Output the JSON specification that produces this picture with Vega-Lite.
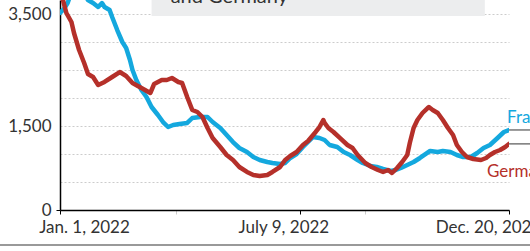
{
  "$schema": "https://vega.github.io/schema/vega-lite/v6.json",
  "width": 449,
  "height": 210,
  "autosize": {"type": "none"},
  "padding": {"left": 60, "top": 0, "right": 21, "bottom": 41},
  "background": "white",
  "config": {"view": {"stroke": null}, "font": "Lato"},
  "datasets": {
    "series": [
      {"country": "France", "date": "2022-01-01", "value": 3518},
      {"country": "France", "date": "2022-01-04", "value": 3589},
      {"country": "France", "date": "2022-01-07", "value": 3696},
      {"country": "France", "date": "2022-01-10", "value": 3893},
      {"country": "France", "date": "2022-01-15", "value": 3964},
      {"country": "France", "date": "2022-01-20", "value": 3857},
      {"country": "France", "date": "2022-01-23", "value": 3750},
      {"country": "France", "date": "2022-01-27", "value": 3696},
      {"country": "France", "date": "2022-01-31", "value": 3625},
      {"country": "France", "date": "2022-02-03", "value": 3696},
      {"country": "France", "date": "2022-02-05", "value": 3625},
      {"country": "France", "date": "2022-02-09", "value": 3571},
      {"country": "France", "date": "2022-02-11", "value": 3446},
      {"country": "France", "date": "2022-02-15", "value": 3214},
      {"country": "France", "date": "2022-02-19", "value": 3000},
      {"country": "France", "date": "2022-02-22", "value": 2893},
      {"country": "France", "date": "2022-02-25", "value": 2679},
      {"country": "France", "date": "2022-02-27", "value": 2500},
      {"country": "France", "date": "2022-03-02", "value": 2321},
      {"country": "France", "date": "2022-03-06", "value": 2143},
      {"country": "France", "date": "2022-03-10", "value": 2018},
      {"country": "France", "date": "2022-03-14", "value": 1839},
      {"country": "France", "date": "2022-03-19", "value": 1696},
      {"country": "France", "date": "2022-03-23", "value": 1571},
      {"country": "France", "date": "2022-03-27", "value": 1482},
      {"country": "France", "date": "2022-03-31", "value": 1518},
      {"country": "France", "date": "2022-04-05", "value": 1536},
      {"country": "France", "date": "2022-04-11", "value": 1554},
      {"country": "France", "date": "2022-04-15", "value": 1643},
      {"country": "France", "date": "2022-04-21", "value": 1661},
      {"country": "France", "date": "2022-04-27", "value": 1661},
      {"country": "France", "date": "2022-05-01", "value": 1571},
      {"country": "France", "date": "2022-05-07", "value": 1464},
      {"country": "France", "date": "2022-05-12", "value": 1339},
      {"country": "France", "date": "2022-05-17", "value": 1214},
      {"country": "France", "date": "2022-05-22", "value": 1107},
      {"country": "France", "date": "2022-05-28", "value": 1036},
      {"country": "France", "date": "2022-06-02", "value": 946},
      {"country": "France", "date": "2022-06-07", "value": 893},
      {"country": "France", "date": "2022-06-13", "value": 857},
      {"country": "France", "date": "2022-06-17", "value": 839},
      {"country": "France", "date": "2022-06-23", "value": 821},
      {"country": "France", "date": "2022-06-27", "value": 839},
      {"country": "France", "date": "2022-07-01", "value": 929},
      {"country": "France", "date": "2022-07-06", "value": 1000},
      {"country": "France", "date": "2022-07-11", "value": 1125},
      {"country": "France", "date": "2022-07-15", "value": 1214},
      {"country": "France", "date": "2022-07-19", "value": 1304},
      {"country": "France", "date": "2022-07-24", "value": 1286},
      {"country": "France", "date": "2022-07-28", "value": 1250},
      {"country": "France", "date": "2022-08-01", "value": 1161},
      {"country": "France", "date": "2022-08-07", "value": 1125},
      {"country": "France", "date": "2022-08-12", "value": 1036},
      {"country": "France", "date": "2022-08-17", "value": 982},
      {"country": "France", "date": "2022-08-23", "value": 893},
      {"country": "France", "date": "2022-08-27", "value": 839},
      {"country": "France", "date": "2022-09-02", "value": 786},
      {"country": "France", "date": "2022-09-07", "value": 768},
      {"country": "France", "date": "2022-09-12", "value": 732},
      {"country": "France", "date": "2022-09-18", "value": 696},
      {"country": "France", "date": "2022-09-22", "value": 714},
      {"country": "France", "date": "2022-09-26", "value": 750},
      {"country": "France", "date": "2022-10-01", "value": 804},
      {"country": "France", "date": "2022-10-06", "value": 857},
      {"country": "France", "date": "2022-10-11", "value": 929},
      {"country": "France", "date": "2022-10-19", "value": 1054},
      {"country": "France", "date": "2022-10-25", "value": 1036},
      {"country": "France", "date": "2022-10-29", "value": 1054},
      {"country": "France", "date": "2022-11-04", "value": 1036},
      {"country": "France", "date": "2022-11-09", "value": 982},
      {"country": "France", "date": "2022-11-14", "value": 946},
      {"country": "France", "date": "2022-11-20", "value": 946},
      {"country": "France", "date": "2022-11-25", "value": 1018},
      {"country": "France", "date": "2022-11-30", "value": 1107},
      {"country": "France", "date": "2022-12-05", "value": 1161},
      {"country": "France", "date": "2022-12-11", "value": 1286},
      {"country": "France", "date": "2022-12-16", "value": 1393},
      {"country": "France", "date": "2022-12-20", "value": 1429},
      {"country": "Germany", "date": "2022-01-01", "value": 3950},
      {"country": "Germany", "date": "2022-01-06", "value": 3518},
      {"country": "Germany", "date": "2022-01-10", "value": 3357},
      {"country": "Germany", "date": "2022-01-12", "value": 3161},
      {"country": "Germany", "date": "2022-01-16", "value": 2857},
      {"country": "Germany", "date": "2022-01-20", "value": 2625},
      {"country": "Germany", "date": "2022-01-23", "value": 2429},
      {"country": "Germany", "date": "2022-01-27", "value": 2375},
      {"country": "Germany", "date": "2022-01-31", "value": 2232},
      {"country": "Germany", "date": "2022-02-05", "value": 2286},
      {"country": "Germany", "date": "2022-02-11", "value": 2375},
      {"country": "Germany", "date": "2022-02-17", "value": 2464},
      {"country": "Germany", "date": "2022-02-22", "value": 2393},
      {"country": "Germany", "date": "2022-02-27", "value": 2268},
      {"country": "Germany", "date": "2022-03-06", "value": 2179},
      {"country": "Germany", "date": "2022-03-13", "value": 2089},
      {"country": "Germany", "date": "2022-03-16", "value": 2250},
      {"country": "Germany", "date": "2022-03-22", "value": 2321},
      {"country": "Germany", "date": "2022-03-26", "value": 2321},
      {"country": "Germany", "date": "2022-03-30", "value": 2357},
      {"country": "Germany", "date": "2022-04-04", "value": 2286},
      {"country": "Germany", "date": "2022-04-07", "value": 2268},
      {"country": "Germany", "date": "2022-04-11", "value": 2018},
      {"country": "Germany", "date": "2022-04-15", "value": 1786},
      {"country": "Germany", "date": "2022-04-19", "value": 1750},
      {"country": "Germany", "date": "2022-04-23", "value": 1661},
      {"country": "Germany", "date": "2022-04-27", "value": 1464},
      {"country": "Germany", "date": "2022-05-01", "value": 1286},
      {"country": "Germany", "date": "2022-05-07", "value": 1125},
      {"country": "Germany", "date": "2022-05-12", "value": 982},
      {"country": "Germany", "date": "2022-05-17", "value": 893},
      {"country": "Germany", "date": "2022-05-22", "value": 768},
      {"country": "Germany", "date": "2022-05-28", "value": 679},
      {"country": "Germany", "date": "2022-06-02", "value": 625},
      {"country": "Germany", "date": "2022-06-07", "value": 607},
      {"country": "Germany", "date": "2022-06-13", "value": 625},
      {"country": "Germany", "date": "2022-06-17", "value": 679},
      {"country": "Germany", "date": "2022-06-23", "value": 768},
      {"country": "Germany", "date": "2022-06-27", "value": 893},
      {"country": "Germany", "date": "2022-07-01", "value": 964},
      {"country": "Germany", "date": "2022-07-06", "value": 1036},
      {"country": "Germany", "date": "2022-07-11", "value": 1161},
      {"country": "Germany", "date": "2022-07-15", "value": 1232},
      {"country": "Germany", "date": "2022-07-21", "value": 1393},
      {"country": "Germany", "date": "2022-07-24", "value": 1482},
      {"country": "Germany", "date": "2022-07-27", "value": 1607},
      {"country": "Germany", "date": "2022-07-28", "value": 1554},
      {"country": "Germany", "date": "2022-07-31", "value": 1464},
      {"country": "Germany", "date": "2022-08-04", "value": 1393},
      {"country": "Germany", "date": "2022-08-09", "value": 1286},
      {"country": "Germany", "date": "2022-08-15", "value": 1161},
      {"country": "Germany", "date": "2022-08-19", "value": 1107},
      {"country": "Germany", "date": "2022-08-23", "value": 982},
      {"country": "Germany", "date": "2022-08-29", "value": 839},
      {"country": "Germany", "date": "2022-09-03", "value": 768},
      {"country": "Germany", "date": "2022-09-08", "value": 714},
      {"country": "Germany", "date": "2022-09-12", "value": 679},
      {"country": "Germany", "date": "2022-09-16", "value": 714},
      {"country": "Germany", "date": "2022-09-19", "value": 661},
      {"country": "Germany", "date": "2022-09-23", "value": 750},
      {"country": "Germany", "date": "2022-09-27", "value": 857},
      {"country": "Germany", "date": "2022-10-01", "value": 982},
      {"country": "Germany", "date": "2022-10-03", "value": 1196},
      {"country": "Germany", "date": "2022-10-06", "value": 1464},
      {"country": "Germany", "date": "2022-10-09", "value": 1607},
      {"country": "Germany", "date": "2022-10-13", "value": 1732},
      {"country": "Germany", "date": "2022-10-17", "value": 1821},
      {"country": "Germany", "date": "2022-10-18", "value": 1839},
      {"country": "Germany", "date": "2022-10-21", "value": 1786},
      {"country": "Germany", "date": "2022-10-25", "value": 1732},
      {"country": "Germany", "date": "2022-10-29", "value": 1607},
      {"country": "Germany", "date": "2022-11-02", "value": 1464},
      {"country": "Germany", "date": "2022-11-06", "value": 1339},
      {"country": "Germany", "date": "2022-11-09", "value": 1161},
      {"country": "Germany", "date": "2022-11-13", "value": 1036},
      {"country": "Germany", "date": "2022-11-17", "value": 946},
      {"country": "Germany", "date": "2022-11-22", "value": 911},
      {"country": "Germany", "date": "2022-11-28", "value": 893},
      {"country": "Germany", "date": "2022-12-02", "value": 929},
      {"country": "Germany", "date": "2022-12-05", "value": 982},
      {"country": "Germany", "date": "2022-12-09", "value": 1036},
      {"country": "Germany", "date": "2022-12-13", "value": 1071},
      {"country": "Germany", "date": "2022-12-17", "value": 1125},
      {"country": "Germany", "date": "2022-12-20", "value": 1180}
    ],
    "ends": [
      {"country": "France", "date": "2022-12-20", "value": 1429, "end": "2023-01-08"},
      {"country": "Germany", "date": "2022-12-20", "value": 1180, "end": "2023-01-08"}
    ]
  },
  "layer": [
    {
      "data": {"name": "series"},
      "mark": {"type": "line", "strokeWidth": 4.5, "clip": true, "strokeJoin": "round", "strokeCap": "round"},
      "encoding": {
        "x": {
          "field": "date", "type": "temporal",
          "scale": {"type": "utc", "domain": [{"year": 2022, "month": 1, "date": 1, "utc": true}, {"year": 2022, "month": 12, "date": 20, "utc": true}]},
          "axis": {
            "title": null,
            "values": [
              {"year": 2022, "month": 1, "date": 1, "utc": true},
              {"year": 2022, "month": 4, "date": 2, "utc": true},
              {"year": 2022, "month": 7, "date": 9, "utc": true},
              {"year": 2022, "month": 8, "date": 29, "utc": true},
              {"year": 2022, "month": 12, "date": 20, "utc": true}
            ],
            "labelExpr": "utcmonth(datum.value)==0 ? 'Jan. 1, 2022' : utcmonth(datum.value)==6 ? 'July 9, 2022' : utcmonth(datum.value)==11 ? 'Dec. 20, 2022' : ''",
            "domainColor": "#000000",
            "domainWidth": 1.5,
            "tickColor": {"condition": {"test": "utcmonth(datum.value)==3 || utcmonth(datum.value)==7", "value": "#cccccc"}, "value": "#000000"},
            "tickSize": 4,
            "labelFontSize": 17,
            "labelColor": "#333333",
            "labelPadding": 5,
            "labelOffset": {"condition": [{"test": "utcmonth(datum.value)==0", "value": 24}, {"test": "utcmonth(datum.value)==6", "value": -17}], "value": -21},
            "labelOverlap": false,
            "labelBound": false,
            "labelFlush": false,
            "grid": false
          }
        },
        "y": {
          "field": "value", "type": "quantitative",
          "scale": {"domain": [0, 3750], "nice": false},
          "axis": {
            "title": null,
            "tickCount": 8,
            "labelExpr": "(datum.value==0 || datum.value==1500 || datum.value==3500) ? format(datum.value, ',') : ''",
            "labelOverlap": false,
            "labelBound": false,
            "labelFlush": false,
            "grid": true,
            "gridDash": [2, 2],
            "gridColor": "#cccccc",
            "domainColor": "#000000",
            "domainWidth": 1.5,
            "tickColor": {"condition": {"test": "datum.value==0", "value": "#000000"}, "value": "transparent"},
            "tickSize": 4,
            "labelPadding": 5,
            "labelFontSize": 17,
            "labelColor": "#333333"
          }
        },
        "color": {"field": "country", "type": "nominal", "scale": {"domain": ["France", "Germany"], "range": ["#14A8DE", "#B5302A"]}, "legend": null},
        "order": {"field": "date"}
      }
    },
    {
      "data": {"values": [{"start": "2022-03-14", "stop": "2022-12-01", "low": 3464, "high": 4600}]},
      "mark": {"type": "rect", "color": "#ECEDEE", "clip": false},
      "encoding": {
        "x": {"field": "start", "type": "temporal"},
        "x2": {"field": "stop"},
        "y": {"field": "low", "type": "quantitative"},
        "y2": {"field": "high"}
      }
    },
    {
      "data": {"values": [{"note": "and Germany", "noteDate": "2022-03-29", "noteValue": 3696}]},
      "mark": {"type": "text", "align": "left", "baseline": "alphabetic", "fontSize": 20, "color": "#333333", "clip": false},
      "encoding": {
        "x": {"field": "noteDate", "type": "temporal"},
        "y": {"field": "noteValue", "type": "quantitative"},
        "text": {"field": "note"}
      }
    },
    {
      "data": {"name": "ends"},
      "mark": {"type": "rule", "color": "#333333", "strokeWidth": 1, "clip": false},
      "encoding": {
        "x": {"field": "date", "type": "temporal"},
        "x2": {"field": "end"},
        "y": {"field": "value", "type": "quantitative"}
      }
    },
    {
      "data": {"name": "ends"},
      "transform": [{"filter": "datum.country == 'France'"}],
      "mark": {"type": "text", "align": "left", "baseline": "middle", "fontSize": 17, "dx": -2, "dy": -12, "color": "#14A8DE", "clip": false},
      "encoding": {
        "x": {"field": "date", "type": "temporal"},
        "y": {"field": "value", "type": "quantitative"},
        "text": {"field": "country"}
      }
    },
    {
      "data": {"name": "ends"},
      "transform": [{"filter": "datum.country == 'Germany'"}],
      "mark": {"type": "text", "align": "left", "baseline": "middle", "fontSize": 17, "dx": -22, "dy": 28, "color": "#B5302A", "clip": false},
      "encoding": {
        "x": {"field": "date", "type": "temporal"},
        "y": {"field": "value", "type": "quantitative"},
        "text": {"field": "country"}
      }
    },
    {
      "data": {"values": [{"from": "2021-11-14", "to": "2023-01-08", "level": -625}]},
      "mark": {"type": "rule", "color": "#777777", "strokeWidth": 1.5, "clip": false},
      "encoding": {
        "x": {"field": "from", "type": "temporal"},
        "x2": {"field": "to"},
        "y": {"field": "level", "type": "quantitative"}
      }
    }
  ]
}
